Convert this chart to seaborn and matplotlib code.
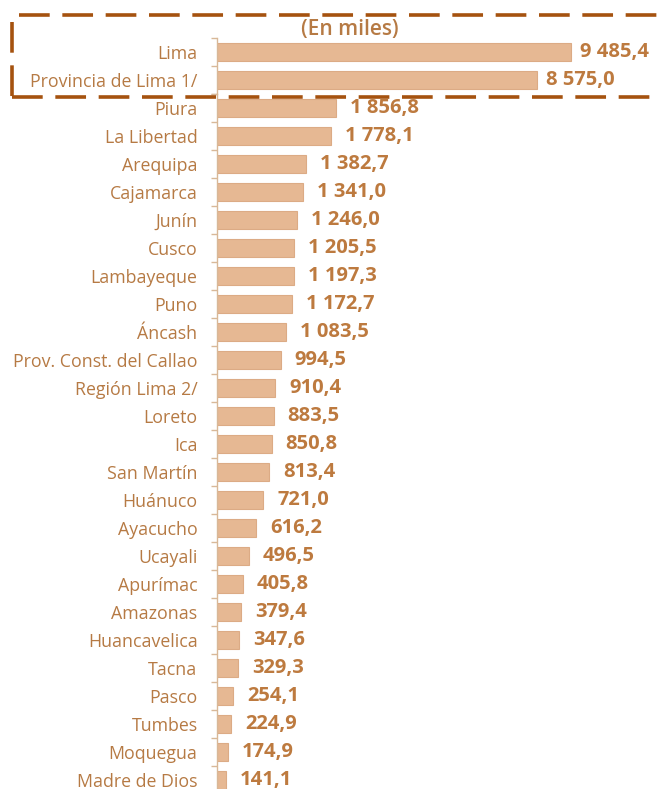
import matplotlib
matplotlib.use("Agg")
import matplotlib.pyplot as plt
import seaborn as sns
from matplotlib.lines import Line2D

# top block (Lima) drawn on its own scale, as in the source
top_names = ["Lima", "Provincia de Lima 1/"]
top_values = [9485.4, 8575.0]

names = ["Piura", "La Libertad", "Arequipa", "Cajamarca", "Junín", "Cusco",
         "Lambayeque", "Puno", "Áncash", "Prov. Const. del Callao",
         "Región Lima 2/", "Loreto", "Ica", "San Martín", "Huánuco",
         "Ayacucho", "Ucayali", "Apurímac", "Amazonas", "Huancavelica",
         "Tacna", "Pasco", "Tumbes", "Moquegua", "Madre de Dios"]
values = [1856.8, 1778.1, 1382.7, 1341.0, 1246.0, 1205.5, 1197.3, 1172.7,
          1083.5, 994.5, 910.4, 883.5, 850.8, 813.4, 721.0, 616.2, 496.5,
          405.8, 379.4, 347.6, 329.3, 254.1, 224.9, 174.9, 141.1]

bar_col = "#e6b893"
edge_col = "#dcab85"
lab_col = "#b67a44"
val_col = "#bd7a3f"
spine_col = "#d8b898"
box_col = "#a5520f"

sns.set_style("white")
plt.rcParams["font.family"] = ["Open Sans", "DejaVu Sans"]

W, H = 662, 789
fig = plt.figure(figsize=(W / 100, H / 100), dpi=100)
fig.patch.set_facecolor("white")

row = 28
x0 = 217


def fax(px_left, px_top, px_w, px_h):
    return fig.add_axes([px_left / W, 1 - (px_top + px_h) / H, px_w / W, px_h / H])


def fmt(v):
    return f"{v:,.1f}".replace(",", " ").replace(".", ",")


def draw(ax, labels, vals, xmax, gap):
    sns.barplot(x=vals, y=labels, orient="h", ax=ax, color=bar_col,
                width=0.65, edgecolor=edge_col, linewidth=0.8, saturation=1)
    ax.set_xlim(0, xmax)
    ax.set_ylim(len(labels) - 0.5, -0.5)
    ax.set_xlabel("")
    ax.set_ylabel("")
    ax.set_xticks([])
    for s in ["top", "right", "bottom"]:
        ax.spines[s].set_visible(False)
    ax.spines["left"].set_color(spine_col)
    ax.spines["left"].set_linewidth(1.0)
    ax.set_yticks([i - 0.5 for i in range(len(labels) + 1)], minor=True)
    ax.tick_params(axis="y", which="minor", length=4, color=spine_col, width=1, left=True)
    ax.tick_params(axis="y", which="major", length=0, pad=14, labelsize=12.8, labelcolor=lab_col)
    for i, v in enumerate(vals):
        ax.annotate(fmt(v), (v, i), xytext=(gap, 0), textcoords="offset points",
                    va="center", ha="left", fontsize=14.5, fontweight="bold", color=val_col)
    ax.patch.set_alpha(0)


ax_top = fax(x0, 38, W - x0, 2 * row)
draw(ax_top, top_names, top_values, (W - x0) / 0.03732, 6.5)

ax_bot = fax(x0, 38 + 2 * row, W - x0, len(names) * row)
draw(ax_bot, names, values, (W - x0) / 0.0641, 10)

fig.text(350 / W, 1 - 29 / H, "(En miles)", ha="center", va="center",
         fontsize=15, fontweight="semibold", color=lab_col)

# dashed frame around the Lima rows
dash = dict(color=box_col, linewidth=2.6, linestyle=(0, (8.5, 3.5)), transform=fig.transFigure)
fig.add_artist(Line2D([19 / W, 1.02], [1 - 15 / H] * 2, **dash))
fig.add_artist(Line2D([12 / W, 1.02], [1 - 97 / H] * 2, **dash))
fig.add_artist(Line2D([12 / W] * 2, [1 - 22 / H, 1 - 97 / H], **dash))

fig.savefig("out.png", dpi=100, facecolor="white")
